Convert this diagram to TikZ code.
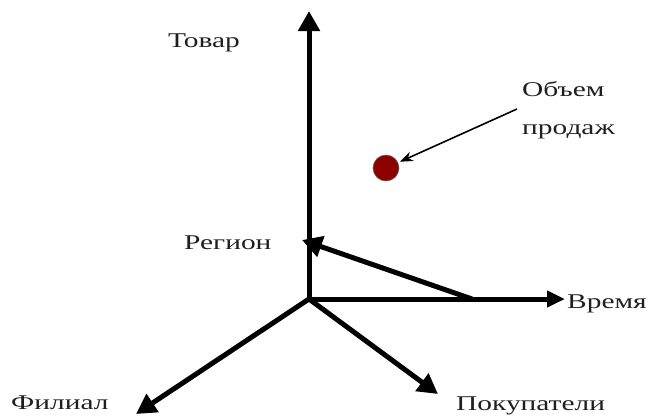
\documentclass[tikz,border=0pt]{standalone}
\usepackage{fontspec}
\setmainfont{Liberation Serif}
\newfontfamily\lblfont[FakeStretch=1.4]{Liberation Serif}
\usetikzlibrary{arrows.meta}
\definecolor{dotred}{RGB}{140,0,0}
\tikzset{
  axis/.style={line width=5pt,-{Triangle[length=20pt,width=21pt]}},
  thinarrow/.style={line width=1.6pt,-{Stealth[length=13pt,width=10pt]}},
  lbl/.style={font=\lblfont\fontsize{21}{38}\selectfont,inner sep=0pt,text=black!88},
}
\begin{document}
\begin{tikzpicture}[x=1pt,y=-1pt]
\useasboundingbox (0,0) rectangle (657,418);
\coordinate (O) at (309,299);
\coordinate (top) at (309,11);
\coordinate (right) at (565,299);
\coordinate (dr) at (438,394);
\coordinate (dl) at (136,414);
\coordinate (rs) at (472,299);
\coordinate (re) at (302,240);
\node[lbl,anchor=base west] (tovar) at (168,47) {Товар};
\node[lbl,anchor=base west] (obem) at (522,96) {Объем};
\node[lbl,anchor=base west] (prodazh) at (522,134) {продаж};
\node[lbl,anchor=base west] (region) at (184,249) {Регион};
\node[lbl,anchor=base west] (vremya) at (567,308) {Время};
\node[lbl,anchor=base west] (pokup) at (456,410) {Покупатели};
\node[lbl,anchor=base west] (filial) at (11,409) {Филиал};
\node[circle,minimum size=26pt,inner sep=0pt,fill=dotred,draw=black!60,line width=0.6pt] (dot) at (386,168) {};
\coordinate (os) at (517,109);
\draw[axis] (O) -- (top);
\draw[axis,-{Triangle[length=18pt,width=16pt]}] (O) -- (right);
\draw[axis] (O) -- (dr);
\draw[axis] (O) -- (dl);
\draw[axis] (rs) -- (re);
\draw[thinarrow,shorten >=2pt] (os) -- (dot);
\end{tikzpicture}
\end{document}
